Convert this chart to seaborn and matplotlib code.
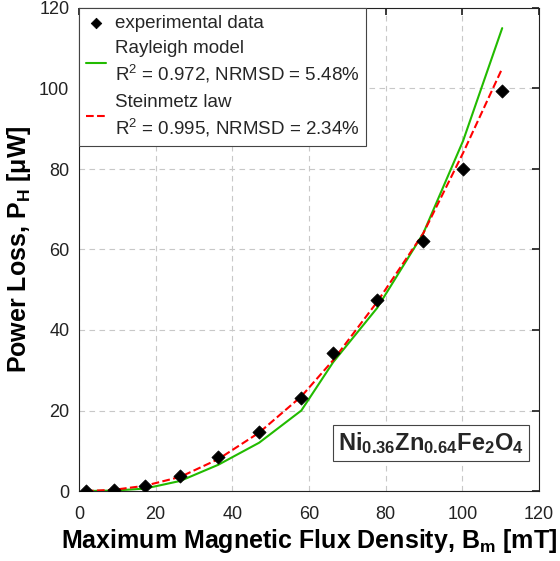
import numpy as np
import pandas as pd
import seaborn as sns
import matplotlib.pyplot as plt

# estilo base
sns.set_theme(style="whitegrid")
plt.rcParams['font.family'] = ['Liberation Sans', 'DejaVu Sans']
plt.rcParams['mathtext.fontset'] = 'custom'
plt.rcParams['mathtext.rm'] = 'Liberation Sans'
plt.rcParams['mathtext.it'] = 'Liberation Sans:italic'
plt.rcParams['mathtext.bf'] = 'Liberation Sans:bold'

# datos
b_m = [1.8, 9.1, 17.2, 26.4, 36.3, 47.0, 58.0, 66.3, 77.8, 89.8, 100.2, 110.4]
p_exp = [0.0, 0.2, 1.2, 3.7, 8.5, 14.7, 23.1, 34.3, 47.5, 62.2, 80.1, 99.5]
p_rayleigh = [0.0, 0.1, 0.6, 2.5, 6.5, 12.0, 20.0, 32.0, 45.5, 64.0, 87.0, 115.0]
p_steinmetz = [0.0, 0.3, 1.3, 3.5, 7.9, 14.5, 23.5, 32.5, 47.0, 64.0, 84.0, 105.0]

df = pd.DataFrame({"B": b_m, "exp": p_exp, "ray": p_rayleigh, "stein": p_steinmetz})

fig = plt.figure(figsize=(5.6, 5.61), dpi=100)
ax = fig.add_axes([79 / 560, 70 / 561, 460 / 560, 483 / 561])

sns.scatterplot(data=df, x="B", y="exp", marker="D", color="black", s=45,
                edgecolor="black", zorder=4, ax=ax, label="experimental data")
sns.lineplot(data=df, x="B", y="ray", color="#22bb00", linewidth=1.5, ax=ax,
             label="Rayleigh model\n$\\mathregular{R^2}$ = 0.972, NRMSD = 5.48%")
sns.lineplot(data=df, x="B", y="stein", color="red", linestyle="--", dashes=(4, 3),
             linewidth=1.5, ax=ax,
             label="Steinmetz law\n$\\mathregular{R^2}$ = 0.995, NRMSD = 2.34%")

ax.set_xlim(0, 120)
ax.set_ylim(0, 120)
ax.set_xticks(range(0, 121, 20))
ax.set_yticks(range(0, 121, 20))
ax.set_facecolor("white")
ax.grid(True, color="#c8c8c8", linestyle=(0, (5, 4)), linewidth=0.8)
for s in ax.spines.values():
    s.set_color("#222222")
    s.set_linewidth(0.8)
ax.tick_params(direction="in", length=5, top=True, right=True, labelsize=13,
               colors="#222222")
ax.tick_params(axis="x", pad=11)
ax.tick_params(axis="y", pad=7)

ax.set_xlabel("Maximum Magnetic Flux Density, $\\mathbf{B_m}$ [mT]",
              fontsize=18, fontweight="bold", labelpad=3, color="black")
ax.set_ylabel("Power Loss, $\\mathbf{P_H}$ [μW]", fontsize=18, fontweight="bold",
              labelpad=4, color="black")

leg = ax.legend(loc="upper left", fontsize=13.5, frameon=True, fancybox=False,
                edgecolor="#444444", framealpha=1, borderaxespad=0.0, borderpad=0.35,
                handlelength=1.1, handletextpad=0.45, labelspacing=0.45,
                markerscale=0.8)
leg.get_frame().set_linewidth(0.8)
for t in leg.get_texts():
    t.set_linespacing(1.35)

ax.text(91.8, 11.9, "$\\mathbf{Ni_{0.36}Zn_{0.64}Fe_2O_4}$", fontsize=17,
        ha="center", va="center",
        bbox=dict(boxstyle="square,pad=0.2", facecolor="white", edgecolor="#444444",
                  linewidth=0.8))

fig.savefig("out.png", dpi=100)
